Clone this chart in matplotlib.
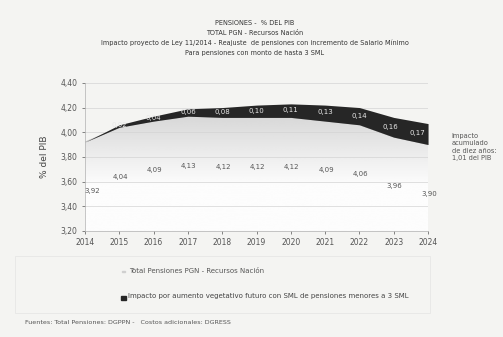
import matplotlib.pyplot as plt
import numpy as np
from matplotlib.patches import Rectangle

years = [2014, 2015, 2016, 2017, 2018, 2019, 2020, 2021, 2022, 2023, 2024]
total_pgn = [3.92, 4.04, 4.09, 4.13, 4.12, 4.12, 4.12, 4.09, 4.06, 3.96, 3.90]
impacto = [0.00, 0.02, 0.04, 0.06, 0.08, 0.10, 0.11, 0.13, 0.14, 0.16, 0.17]
yticks = [3.2, 3.4, 3.6, 3.8, 4.0, 4.2, 4.4]

def coma(v):
    return f"{v:.2f}".replace('.', ',')

bg = '#f4f4f2'
fig = plt.figure(figsize=(5.03, 3.37), dpi=100, facecolor=bg)
ax = fig.add_axes([0.169, 0.315, 0.682, 0.439], facecolor=bg)

x = np.array(years)
base = np.array(total_pgn)
top = base + np.array(impacto)

# base area: grey under the band, fading to white lower down
poly = ax.fill_between(x, 3.2, base, color='none', lw=0)
grad = np.concatenate([np.full(100, 0.99), np.linspace(0.99, 0.84, 156)]).reshape(-1, 1)
img = ax.imshow(grad, cmap='gray', vmin=0, vmax=1, aspect='auto',
                extent=[x[0], x[-1], 3.2, 4.15], origin='lower', zorder=1)
img.set_clip_path(poly.get_paths()[0], transform=ax.transData)
ax.plot(x, base, color='#bdbdbd', lw=0.6, zorder=2)

# impact band
ax.fill_between(x, base, top, color='#262626', lw=0, zorder=3)

for i, (xi, b, v) in enumerate(zip(x, base, impacto)):
    if v > 0:
        dx = -0.3 if i == len(x) - 1 else -0.1 if i == len(x) - 2 else 0
        ax.text(xi + dx, b + v / 2 + 0.005, coma(v), color='#e8e8e8', fontsize=5,
                ha='center', va='center', zorder=4)

for i, (xi, b) in enumerate(zip(x, base)):
    dx = 0.2 if i == 0 else 0.03
    ax.text(xi + dx, b - 0.40, coma(b), color='#555555', fontsize=5,
            ha='center', va='center', zorder=4)

ax.set_xlim(2014, 2024)
ax.set_ylim(3.2, 4.4)
ax.set_xticks(years)
ax.set_xticklabels([str(y) for y in years])
ax.set_yticks(yticks)
ax.set_yticklabels([coma(v) for v in yticks])
ax.tick_params(labelsize=5.5, colors='#555555', length=2, width=0.5)
ax.grid(axis='y', color='#d4d4d4', lw=0.5, zorder=0)
for s in ['top', 'right']:
    ax.spines[s].set_visible(False)
for s in ['left', 'bottom']:
    ax.spines[s].set_color('#b0b0b0')
    ax.spines[s].set_linewidth(0.5)
ax.set_ylabel('% del PIB', fontsize=6.5, color='#444444', labelpad=8)

titulos = ['PENSIONES -  % DEL PIB',
           'TOTAL PGN - Recursos Nación',
           'Impacto proyecto de Ley 11/2014 - Reajuste  de pensiones con incremento de Salario Mínimo',
           'Para pensiones con monto de hasta 3 SML']
for i, t in enumerate(titulos):
    fig.text(0.506, 1 - (23 + i * 10) / 337, t, fontsize=4.7, color='#333333',
             ha='center', va='center')

fig.text(0.898, 1 - 147 / 337,
         'Impacto\nacumulado\nde diez años:\n1,01 del PIB',
         fontsize=4.8, color='#555555', ha='left', va='center', linespacing=1.3)

# legend box
fig.patches.append(Rectangle((0.03, 0.07), 0.825, 0.17, transform=fig.transFigure,
                             fill=False, ec='#e6e6e6', lw=0.6))
fig.patches.append(Rectangle((0.243, 1 - 272 / 337), 0.006, 0.004, transform=fig.transFigure,
                             color='#cfcfcf'))
fig.text(0.256, 1 - 271 / 337, 'Total Pensiones PGN - Recursos Nación',
         fontsize=5, color='#555555', va='center')
fig.patches.append(Rectangle((0.241, 1 - 300 / 337), 0.009, 0.013, transform=fig.transFigure,
                             color='#262626'))
fig.text(0.255, 1 - 296 / 337,
         'Impacto por aumento vegetativo futuro con SML de pensiones menores a 3 SML',
         fontsize=5, color='#444444', va='center')

fig.text(0.05, 1 - 323 / 337,
         'Fuentes: Total Pensiones: DGPPN -   Costos adicionales: DGRESS',
         fontsize=4.6, color='#555555', va='center')

fig.savefig('out.png', dpi=100, facecolor=bg)
